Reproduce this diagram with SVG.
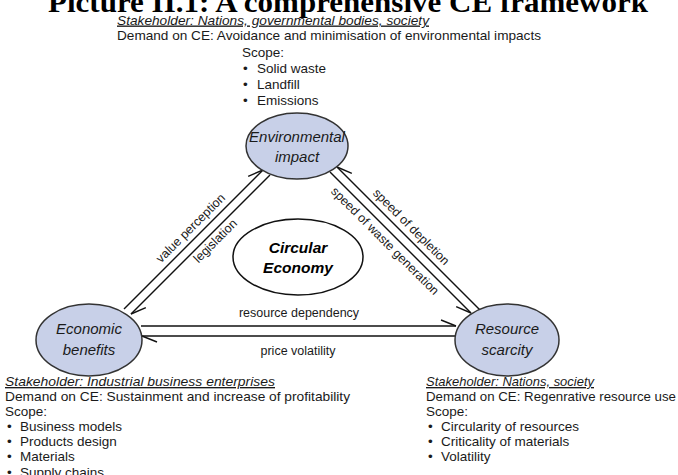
<svg xmlns="http://www.w3.org/2000/svg" width="678" height="475" viewBox="0 0 678 475">
<style>
text{font-family:"Liberation Sans",Arial,sans-serif;fill:#1a1a1a}
.title{font-family:"Liberation Serif","Times New Roman",serif;font-weight:bold;font-size:30px;fill:#000}
.body{font-size:13.5px}
.stake{font-size:13.5px;font-style:italic;text-decoration:underline}
.lbl{font-size:12.5px;text-anchor:middle}
.node{font-size:15px;font-style:italic;text-anchor:middle}
.ce{font-size:15.5px;font-style:italic;font-weight:bold;text-anchor:middle;fill:#000}
.blue{fill:#c8d0e8;stroke:#333;stroke-width:1.5}
.white{fill:#fff;stroke:#111;stroke-width:1.5}
.con{fill:none;stroke:#111;stroke-width:1.4}
</style>
<defs>
<marker id="hl" markerUnits="userSpaceOnUse" markerWidth="20" markerHeight="20" refX="0" refY="0" orient="auto" overflow="visible"><path d="M0,0 L-15,-6" fill="none" stroke="#111" stroke-width="1.4"/></marker>
<marker id="hr" markerUnits="userSpaceOnUse" markerWidth="20" markerHeight="20" refX="0" refY="0" orient="auto" overflow="visible"><path d="M0,0 L-15,6" fill="none" stroke="#111" stroke-width="1.4"/></marker>
</defs>
<text class="title" x="48" y="12" textLength="600" lengthAdjust="spacingAndGlyphs">Picture II.1: A comprehensive CE framework</text>

<g id="top-text">
<text class="stake" x="117" y="24.5" textLength="312" lengthAdjust="spacingAndGlyphs">Stakeholder: Nations, governmental bodies, society</text>
<text class="body" x="117" y="40" textLength="424" lengthAdjust="spacingAndGlyphs">Demand on CE: Avoidance and minimisation of environmental impacts</text>
<text class="body" x="242" y="56.5">Scope:</text>
<text class="body" x="243" y="72.5">•</text><text class="body" x="257" y="72.5">Solid waste</text>
<text class="body" x="243" y="88.5">•</text><text class="body" x="257" y="88.5">Landfill</text>
<text class="body" x="243" y="104.5">•</text><text class="body" x="257" y="104.5">Emissions</text>
</g>

<g id="left-text">
<text class="stake" x="5" y="386" textLength="270" lengthAdjust="spacingAndGlyphs">Stakeholder: Industrial business enterprises</text>
<text class="body" x="5" y="401" textLength="345" lengthAdjust="spacingAndGlyphs">Demand on CE: Sustainment and increase of profitability</text>
<text class="body" x="5" y="416">Scope:</text>
<text class="body" x="7" y="431">•</text><text class="body" x="20" y="431">Business models</text>
<text class="body" x="7" y="446">•</text><text class="body" x="20" y="446">Products design</text>
<text class="body" x="7" y="461">•</text><text class="body" x="20" y="461">Materials</text>
<text class="body" x="7" y="476.5">•</text><text class="body" x="20" y="476.5">Supply chains</text>
</g>

<g id="right-text">
<text class="stake" x="426" y="386" textLength="168" lengthAdjust="spacingAndGlyphs">Stakeholder: Nations, society</text>
<text class="body" x="426" y="401" textLength="250" lengthAdjust="spacingAndGlyphs">Demand on CE: Regenrative resource use</text>
<text class="body" x="426" y="416">Scope:</text>
<text class="body" x="428" y="431">•</text><text class="body" x="441" y="431">Circularity of resources</text>
<text class="body" x="428" y="446">•</text><text class="body" x="441" y="446">Criticality of materials</text>
<text class="body" x="428" y="461">•</text><text class="body" x="441" y="461">Volatility</text>
</g>

<g id="connectors">
<path class="con" d="M124,309 L263,170" marker-end="url(#hl)"/>
<path class="con" d="M270,175 L131,314" marker-end="url(#hl)"/>
<path class="con" d="M481,311 L337,167" marker-end="url(#hr)"/>
<path class="con" d="M330,172 L471,313" marker-end="url(#hr)"/>
<path class="con" d="M141,326 L456,326" marker-end="url(#hl)"/>
<path class="con" d="M456,336 L142,336" marker-end="url(#hl)"/>
<text class="lbl" transform="translate(193.5,239.5) rotate(-45)" x="6" y="-6">value perception</text>
<text class="lbl" transform="translate(200.5,244.5) rotate(-45)" x="13" y="12">legislation</text>
<text class="lbl" transform="translate(409,239) rotate(45)" x="-7" y="-6">speed of depletion</text>
<text class="lbl" transform="translate(400.5,242.5) rotate(45)" x="-12" y="14">speed of waste generation</text>
<text class="lbl" x="299" y="317">resource dependency</text>
<text class="lbl" x="298" y="355">price volatility</text>
</g>

<g id="env">
<ellipse class="blue" cx="297" cy="146" rx="51" ry="33"/>
<text class="node" x="297" y="142">Environmental</text>
<text class="node" x="297" y="162">impact</text>
</g>
<g id="ce">
<ellipse class="white" cx="298" cy="257" rx="65" ry="38"/>
<text class="ce" x="298" y="253">Circular</text>
<text class="ce" x="298" y="273">Economy</text>
</g>
<g id="econ">
<ellipse class="blue" cx="89" cy="340" rx="53" ry="36"/>
<text class="node" x="89" y="334">Economic</text>
<text class="node" x="89" y="355">benefits</text>
</g>
<g id="res">
<ellipse class="blue" cx="507" cy="340" rx="52" ry="36"/>
<text class="node" x="507" y="334">Resource</text>
<text class="node" x="507" y="355">scarcity</text>
</g>
</svg>
